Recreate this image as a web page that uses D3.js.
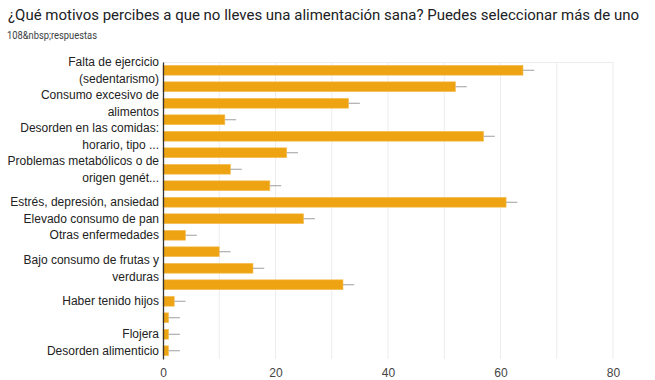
<!DOCTYPE html>
<html>
<head>
<meta charset="utf-8">
<script src="https://cdn.jsdelivr.net/npm/d3@7"></script>
<style>
	body { margin: 0; background: #fff; }
	svg { display: block; }
</style>
</head>
<body>
<script>
// chart text
const title = "¿Qué motivos percibes a que no lleves una alimentación sana? Puedes seleccionar más de uno";
const subtitle = "108&nbsp;respuestas";

// category labels, "\n" splits the lines, "" = label not shown in the original
const categories = [
	"Falta de ejercicio\n(sedentarismo)",
	"",
	"Consumo excesivo de\nalimentos",
	"",
	"Desorden en las comidas:\nhorario, tipo ...",
	"",
	"Problemas metabólicos o de\norigen genét...",
	"",
	"Estrés, depresión, ansiedad",
	"Elevado consumo de pan",
	"Otras enfermedades",
	"",
	"Bajo consumo de frutas y\nverduras",
	"",
	"Haber tenido hijos",
	"",
	"Flojera",
	"Desorden alimenticio"
];

// answers per category
const values = [64, 52, 33, 11, 57, 22, 12, 19, 61, 25, 4, 10, 16, 32, 2, 1, 1, 1];
// error bar length
const errors = [2, 2, 2, 2, 2, 2, 2, 2, 2, 2, 2, 2, 2, 2, 2, 2, 2, 2];

const xTicks = [0, 20, 40, 60, 80];
const xGrid = [10, 20, 30, 40, 50, 60, 70, 80];

function drawChart() {
	let W = 655, H = 380;
	let margin = { top: 62, right: 42, bottom: 21, left: 163 },
		width = W - margin.left - margin.right,
		height = H - margin.top - margin.bottom;

	let svg = d3.select("body").append("svg")
		.attr("width", W)
		.attr("height", H);

	// title and response count
	svg.append("text")
		.attr("x", 8).attr("y", 20)
		.attr("textLength", 631)
		.attr("lengthAdjust", "spacingAndGlyphs")
		.style("font-family", "Roboto, Arial, sans-serif")
		.style("font-size", "15px")
		.style("fill", "#202124")
		.text(title);

	svg.append("text")
		.attr("x", 7).attr("y", 39)
		.attr("textLength", 90)
		.attr("lengthAdjust", "spacingAndGlyphs")
		.style("font-family", "Roboto, Arial, sans-serif")
		.style("font-size", "10px")
		.style("fill", "#3c4043")
		.text(subtitle);

	let g = svg.append("g")
		.attr("transform", "translate(" + margin.left + "," + margin.top + ")");

	let x = d3.scaleLinear().domain([0, 80]).range([0, width]);
	let y = d3.scaleBand()
		.domain(d3.range(values.length))
		.range([0, height])
		.paddingInner(0.4)
		.paddingOuter(0.2);

	// grid lines
	g.selectAll(".grid")
		.data(xGrid)
		.enter().append("line")
		.attr("x1", d => x(d)).attr("x2", d => x(d))
		.attr("y1", 0).attr("y2", height)
		.attr("stroke", "#ececec")
		.attr("stroke-width", 1);

	// top border
	g.append("line")
		.attr("x1", 0).attr("x2", width)
		.attr("y1", 0.5).attr("y2", 0.5)
		.attr("stroke", "#ececec");

	// bars
	g.selectAll(".bar")
		.data(values)
		.enter().append("rect")
		.attr("x", 0)
		.attr("y", (d, i) => y(i))
		.attr("width", d => x(d))
		.attr("height", y.bandwidth())
		.attr("fill", "#eea313")
		.attr("stroke", "#f5c25e")
		.attr("stroke-width", 0.6);

	// error bars (right side only shows)
	g.selectAll(".err")
		.data(values)
		.enter().append("line")
		.attr("x1", d => x(d))
		.attr("x2", (d, i) => x(d + errors[i]))
		.attr("y1", (d, i) => y(i) + y.bandwidth() / 2)
		.attr("y2", (d, i) => y(i) + y.bandwidth() / 2)
		.attr("stroke", "#9e9e9e")
		.attr("stroke-width", 1);

	// x axis
	let xAxis = g.append("g")
		.attr("transform", "translate(0," + height + ")")
		.call(d3.axisBottom(x).tickValues(xTicks).tickSize(0).tickPadding(9));
	xAxis.select(".domain").remove();
	xAxis.selectAll("text")
		.style("font-family", "Arial, 'Liberation Sans', sans-serif")
		.style("font-size", "12px")
		.style("fill", "#444");

	// y axis with wrapped labels
	let yAxis = g.append("g")
		.call(d3.axisLeft(y).tickSize(0).tickPadding(4).tickFormat(""));
	yAxis.select(".domain")
		.attr("stroke", "#333")
		.attr("stroke-width", 1.3);

	let lineH = 16.5;
	yAxis.selectAll(".tick").each(function (d) {
		let lines = categories[d].split("\n").filter(s => s);
		let t = d3.select(this).select("text")
			.style("font-family", "Arial, 'Liberation Sans', sans-serif")
			.style("font-size", "12px")
			.style("fill", "#222")
			.attr("dy", null);
		lines.forEach((s, k) => {
			t.append("tspan")
				.attr("x", -4)
				.attr("y", (k - (lines.length - 1) / 2) * lineH)
				.attr("dy", "0.35em")
				.text(s);
		});
	});
}

window.addEventListener("load", drawChart);
</script>
</body>
</html>
